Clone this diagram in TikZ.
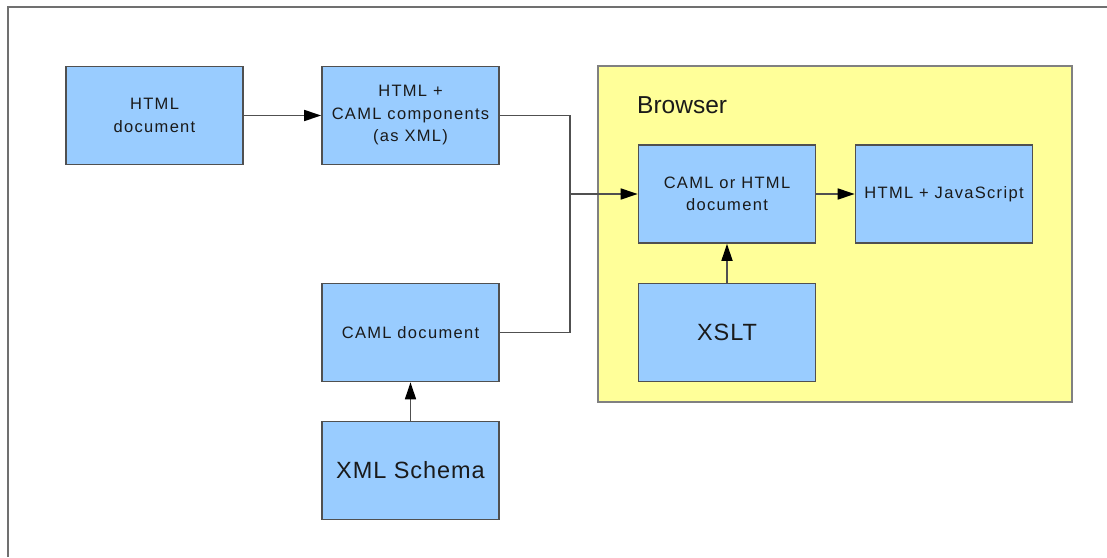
\documentclass[tikz,border=0pt]{standalone}
\usepackage{fontspec}
\setmainfont{Liberation Sans}
\newfontfamily\boxfont[LetterSpace=8]{Liberation Sans}
\newfontfamily\bigfont[LetterSpace=4]{Liberation Sans}
\usetikzlibrary{arrows.meta}
\definecolor{boxblue}{HTML}{99CCFF}
\definecolor{boxline}{HTML}{505050}
\definecolor{browseryellow}{HTML}{FFFF99}
\definecolor{browserline}{HTML}{808080}
\definecolor{frameline}{HTML}{707070}
\definecolor{txt}{HTML}{1A1A1A}
\tikzset{
  box/.style={draw=boxline, fill=boxblue, line width=1.7pt, minimum width=177pt, minimum height=98pt, inner sep=0pt, align=center, text=txt, font=\boxfont\fontsize{16.5}{22.5}\selectfont},
  bigbox/.style={box, font=\bigfont\fontsize{23.5}{27}\selectfont},
  conn/.style={draw=boxline, line width=1.7pt},
  arr/.style={conn, -{Triangle[length=17pt,width=11pt,fill=black,color=black]}},
}
\begin{document}
\begin{tikzpicture}[x=1pt,y=-1pt]
\useasboundingbox (0,0) rectangle (1107,557);
\draw[frameline, line width=2pt] (7.5,557) -- (7.5,6.5) -- (1107,6.5);
\node[draw=browserline, fill=browseryellow, line width=1.7pt, minimum width=474pt, minimum height=336pt, inner sep=0pt] (browser) at (835,234) {};
\node[anchor=base west, inner sep=0pt, font=\fontsize{24.5}{28}\selectfont, text=txt] (blabel) at (637,113) {Browser};
\node[box] (html) at (154.5,115.5) {HTML\\document};
\node[box] (comp) at (410.5,115.5) {HTML +\\CAML components\\(as XML)};
\node[box] (camldoc) at (410.5,332.5) {CAML document};
\node[bigbox] (schema) at (410.5,470.5) {XML Schema};
\node[box] (cohtml) at (727,194) {CAML or HTML\\document};
\node[box] (htmljs) at (944,194) {HTML + JavaScript};
\node[bigbox] (xslt) at (727,332.5) {XSLT};
\coordinate (junction) at (570,194);
\draw[arr] (html.east) -- (comp.west);
\draw[conn] (comp.east) -| (junction) |- (camldoc.east);
\draw[arr] (junction) -- (cohtml.west);
\draw[arr] (cohtml.east) -- (htmljs.west);
\draw[arr] (xslt.north) -- (cohtml.south);
\draw[arr] (schema.north) -- (camldoc.south);
\end{tikzpicture}
\end{document}
